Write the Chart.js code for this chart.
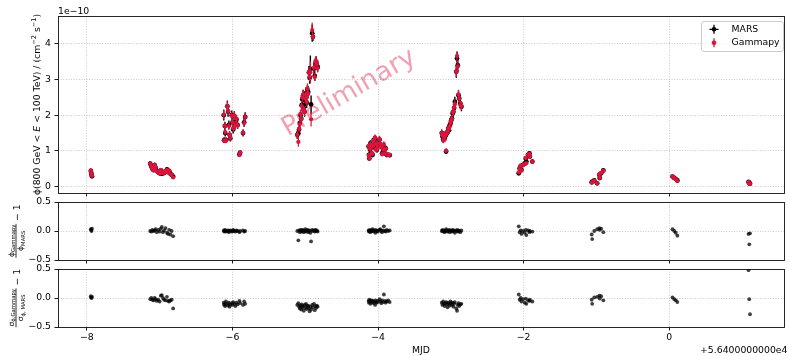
<!DOCTYPE html>
<html><head><meta charset="utf-8">
<script src="https://cdn.jsdelivr.net/npm/chart.js@4.4.1/dist/chart.umd.min.js"></script>
<style>
html,body{margin:0;padding:0;background:#fff;}
#wrap{position:relative;width:788px;height:356px;overflow:hidden;background:#fff;}
#wrap canvas{position:absolute;left:0;}
</style></head><body>
<div id="wrap">
<canvas id="c1" width="788" height="200" style="top:0px"></canvas>
<canvas id="c2" width="788" height="78" style="top:190px"></canvas>
<canvas id="c3" width="788" height="100" style="top:256px"></canvas>
</div>
<script>
// ---------------- data ----------------
// time in days, relative to MJD 56400
const mjd = [
  -7.946, -7.941, -7.936, -7.930,
  -7.130, -7.115, -7.100, -7.085, -7.070, -7.055, -7.040, -7.020, -7.000, -6.985, -6.970, -6.955, -6.940, -6.920, -6.900, -6.885, -6.870, -6.855, -6.835, -6.815,
  -6.120, -6.115, -6.105, -6.100, -6.090, -6.070, -6.060, -6.050, -6.040, -6.030, -6.010, -6.000, -5.990, -5.975, -5.960, -5.945, -5.930, -5.905, -5.895, -5.855, -5.840, -5.825,
  -5.110, -5.095, -5.085, -5.075, -5.065, -5.055, -5.050, -5.040, -5.030, -5.020, -5.010, -5.000, -4.990, -4.980, -4.970, -4.960, -4.950, -4.940, -4.930, -4.920, -4.905, -4.895, -4.880, -4.870, -4.860, -4.850, -4.840, -4.830,
  -4.130, -4.125, -4.120, -4.110, -4.105, -4.090, -4.080, -4.075, -4.060, -4.055, -4.040, -4.035, -4.020, -4.015, -4.000, -3.980, -3.970, -3.955, -3.945, -3.930, -3.920, -3.905, -3.895, -3.880, -3.860, -3.840,
  -3.125, -3.115, -3.105, -3.095, -3.085, -3.075, -3.065, -3.055, -3.045, -3.035, -3.025, -3.015, -3.005, -2.995, -2.985, -2.975, -2.965, -2.955, -2.945, -2.925, -2.915, -2.905, -2.895, -2.885, -2.870, -2.855,
  -2.067, -2.055, -2.040, -2.030, -2.008, -1.985, -1.970, -1.963, -1.940, -1.920, -1.915, -1.880,
  -1.065, -1.058, -1.030, -0.990, -0.960, -0.955, -0.935, -0.905,
  0.045, 0.070, 0.090, 0.112,
  1.090, 1.100, 1.110
];
// MARS integral flux, units of 1e-10 cm^-2 s^-1
const marsFlux = [
  0.44, 0.38, 0.33, 0.29,
  0.64, 0.56, 0.50, 0.46, 0.60, 0.52, 0.44, 0.40, 0.37, 0.45, 0.36, 0.41, 0.38, 0.42, 0.48, 0.41, 0.44, 0.37, 0.33, 0.28,
  2.00, 1.30, 1.70, 1.50, 1.30, 2.25, 2.10, 1.73, 1.45, 1.35, 2.00, 1.80, 1.60, 1.98, 1.75, 1.88, 1.72, 0.90, 0.95, 1.50, 1.80, 1.95,
  1.45, 1.49, 1.60, 1.78, 2.00, 1.90, 2.28, 2.45, 2.55, 2.20, 2.10, 2.40, 2.62, 2.35, 2.70, 2.65, 3.20, 3.05, 3.30, 2.30, 4.30, 4.20, 3.30, 3.10, 3.45, 3.50, 3.40, 3.35,
  1.12, 0.89, 0.79, 1.03, 1.21, 0.93, 1.12, 0.89, 1.31, 1.17, 1.35, 1.07, 1.21, 1.03, 1.12, 1.31, 1.17, 1.12, 0.93, 1.03, 1.10, 0.93, 1.07, 0.89, 0.89, 0.88,
  1.50, 1.40, 1.31, 1.45, 1.35, 1.42, 0.98, 1.49, 1.54, 1.63, 1.58, 1.72, 1.77, 1.86, 1.91, 2.05, 2.10, 2.20, 2.38, 3.22, 3.59, 3.40, 2.56, 2.47, 2.33, 2.24,
  0.37, 0.51, 0.58, 0.47, 0.61, 0.65, 0.79, 0.70, 0.89, 0.93, 0.84, 0.70,
  0.12, 0.14, 0.17, 0.09, 0.33, 0.24, 0.37, 0.45,
  0.28, 0.24, 0.21, 0.17,
  0.13, 0.10, 0.08
];
const marsFluxErr = [
  0.05, 0.05, 0.04, 0.04,
  0.07, 0.06, 0.06, 0.05, 0.07, 0.06, 0.05, 0.05, 0.05, 0.05, 0.05, 0.05, 0.05, 0.05, 0.06, 0.05, 0.05, 0.05, 0.05, 0.04,
  0.15, 0.08, 0.12, 0.10, 0.08, 0.16, 0.14, 0.12, 0.10, 0.09, 0.13, 0.12, 0.11, 0.13, 0.12, 0.12, 0.11, 0.05, 0.05, 0.10, 0.12, 0.13,
  0.12, 0.15, 0.12, 0.13, 0.14, 0.13, 0.15, 0.15, 0.16, 0.14, 0.14, 0.15, 0.16, 0.15, 0.16, 0.16, 0.18, 0.17, 0.37, 0.25, 0.24, 0.12, 0.15, 0.14, 0.15, 0.15, 0.14, 0.14,
  0.08, 0.07, 0.06, 0.08, 0.09, 0.07, 0.08, 0.07, 0.09, 0.08, 0.09, 0.08, 0.09, 0.08, 0.08, 0.09, 0.08, 0.08, 0.07, 0.08, 0.08, 0.07, 0.08, 0.07, 0.06, 0.06,
  0.10, 0.09, 0.09, 0.10, 0.09, 0.09, 0.07, 0.10, 0.10, 0.11, 0.10, 0.11, 0.11, 0.12, 0.12, 0.13, 0.13, 0.13, 0.14, 0.17, 0.18, 0.17, 0.14, 0.14, 0.13, 0.13,
  0.04, 0.05, 0.05, 0.05, 0.05, 0.06, 0.06, 0.06, 0.07, 0.07, 0.06, 0.06,
  0.03, 0.03, 0.03, 0.03, 0.04, 0.04, 0.04, 0.05,
  0.03, 0.03, 0.03, 0.03,
  0.03, 0.03, 0.03
];
// phi_Gammapy / phi_MARS - 1
const fluxRatioMinusOne = [
  0.03, 0.02, 0.00, 0.04,
  0.00, -0.01, 0.02, 0.00, 0.01, 0.03, -0.02, 0.02, -0.01, 0.04, 0.07, -0.02, 0.01, 0.05, -0.03, -0.05, 0.02, -0.06, 0.00, -0.09,
  0.01, -0.01, 0.00, 0.02, -0.01, 0.00, 0.01, -0.02, 0.00, 0.01, -0.01, 0.00, 0.02, 0.00, -0.01, 0.01, 0.00, -0.02, 0.00, 0.01, -0.01, 0.00,
  0.00, -0.16, 0.01, -0.02, 0.02, 0.00, -0.01, 0.02, 0.01, -0.02, 0.00, 0.03, -0.01, 0.01, 0.02, -0.02, 0.00, 0.01, -0.03, -0.18, 0.02, 0.00, 0.01, -0.01, 0.02, 0.00, 0.01, -0.01,
  0.01, -0.01, 0.00, 0.02, -0.02, 0.00, 0.01, 0.03, -0.01, 0.00, 0.02, -0.03, 0.00, 0.01, -0.01, 0.02, 0.03, 0.00, -0.02, 0.01, 0.08, 0.00, -0.01, 0.02, 0.00, 0.01,
  0.00, 0.02, -0.01, 0.01, -0.02, 0.00, 0.03, 0.01, -0.01, 0.00, 0.02, -0.02, 0.01, 0.00, -0.01, 0.02, 0.00, 0.01, -0.03, 0.00, 0.02, -0.01, 0.01, 0.00, -0.02, 0.01,
  0.08, -0.02, 0.01, -0.05, 0.00, -0.03, 0.02, -0.07, 0.01, -0.02, 0.00, -0.01,
  -0.06, -0.14, 0.00, 0.03, 0.05, 0.02, 0.04, -0.02,
  0.03, 0.00, -0.03, -0.08,
  -0.05, -0.23, -0.04
];
// sigma_phi,Gammapy / sigma_phi,MARS - 1
const errRatioMinusOne = [
  0.03, 0.01, 0.00, 0.02,
  -0.02, 0.00, -0.03, -0.04, 0.00, -0.02, -0.05, -0.03, -0.06, 0.04, 0.05, 0.00, -0.03, -0.04, 0.02, -0.05, -0.06, -0.04, -0.03, -0.18,
  -0.08, -0.12, -0.10, -0.14, -0.06, -0.10, -0.13, -0.08, -0.15, -0.11, -0.09, -0.12, -0.07, -0.10, -0.14, -0.08, -0.11, -0.05, -0.09, -0.12, -0.06, -0.10,
  -0.12, -0.09, -0.15, -0.18, -0.13, -0.20, -0.11, -0.16, -0.14, -0.22, -0.12, -0.17, -0.10, -0.19, -0.14, -0.13, -0.18, -0.23, -0.15, -0.20, -0.12, -0.16, -0.10, -0.21, -0.14, -0.17, -0.13, -0.15,
  -0.05, -0.08, -0.03, -0.06, -0.10, -0.04, -0.07, -0.05, -0.09, -0.06, -0.12, -0.04, -0.07, -0.08, -0.05, -0.02, -0.06, -0.09, -0.04, -0.07, 0.06, -0.05, -0.08, -0.06, -0.04, -0.07,
  -0.08, -0.12, -0.06, -0.10, -0.14, -0.09, -0.07, -0.11, -0.16, -0.08, -0.10, -0.13, -0.06, -0.09, -0.12, -0.08, -0.15, -0.10, -0.07, -0.18, -0.22, -0.12, -0.09, -0.14, -0.11, -0.10,
  0.06, -0.03, 0.00, -0.06, -0.02, -0.08, -0.01, -0.10, -0.04, -0.05, -0.03, -0.06,
  -0.03, -0.10, 0.01, 0.02, 0.04, -0.01, 0.03, -0.04,
  0.01, -0.02, -0.04, -0.07,
  0.48, -0.02, -0.28
];
const xTickValues = [-8, -6, -4, -2, 0];
const fluxTickValues = [0, 1, 2, 3, 4];
const residualTickValues = [-0.5, 0, 0.5];
const seriesNames = ['MARS', 'Gammapy'];

// Gammapy series follows from the plotted ratios
const gammapyFlux = marsFlux.map((f, i) => f * (1 + fluxRatioMinusOne[i]));
const gammapyFluxErr = marsFluxErr.map((e, i) => e * (1 + errRatioMinusOne[i]));

// ---------------- styling ----------------
const FAMILY = "'DejaVu Sans', sans-serif";
const FS = 9.3;
const CRIMSON = '#dc143c';
const GRID = 'rgba(176,176,176,0.85)';
const X_MIN = -8.397, X_MAX = 1.577;
const minus = s => String(s).replace('-', '\u2212');

function xAxis(showLabels, height) {
  return {
    type: 'linear', min: X_MIN, max: X_MAX, offset: false,
    afterBuildTicks: s => { s.ticks = xTickValues.map(v => ({ value: v })); },
    afterFit: s => { s.height = height; s.paddingLeft = 0; s.paddingRight = 0; },
    grid: { color: GRID, lineWidth: 0.8, drawTicks: true, tickLength: 3.5, tickColor: '#000', tickWidth: 0.9, tickBorderDash: [] },
    border: { display: false, dash: [1, 1.6] },
    ticks: { display: showLabels, autoSkip: false, maxRotation: 0, padding: 1.5, color: '#000', font: { family: FAMILY, size: FS }, callback: v => minus(v) },
    title: showLabels ? { display: true, text: 'MJD', color: '#000', font: { family: FAMILY, size: FS }, padding: { top: 0, bottom: 0 } } : { display: false }
  };
}
function yAxis(min, max, tickVals, fmt) {
  return {
    type: 'linear', min, max,
    afterBuildTicks: s => { s.ticks = tickVals.map(v => ({ value: v })); },
    afterFit: s => { s.width = 58; s.paddingTop = 0; s.paddingBottom = 0; },
    grid: { color: GRID, lineWidth: 0.8, drawTicks: true, tickLength: 3.5, tickColor: '#000', tickWidth: 0.9, tickBorderDash: [] },
    border: { display: false, dash: [1, 1.6] },
    ticks: { padding: 3.5, color: '#000', font: { family: FAMILY, size: FS }, callback: fmt }
  };
}

const errorBarPlugin = {
  id: 'errorBars',
  beforeDatasetDraw(chart, args) {
    const ds = chart.data.datasets[args.index];
    if (!ds.yErr) return;
    const { ctx, chartArea: a } = chart;
    const xs = chart.scales.x, ys = chart.scales.y;
    ctx.save();
    ctx.beginPath(); ctx.rect(a.left, a.top, a.right - a.left, a.bottom - a.top); ctx.clip();
    ctx.strokeStyle = ds.errColor; ctx.lineWidth = ds.errWidth;
    ctx.beginPath();
    ds.data.forEach((p, i) => {
      const px = xs.getPixelForValue(p.x);
      ctx.moveTo(px, ys.getPixelForValue(p.y - ds.yErr[i]));
      ctx.lineTo(px, ys.getPixelForValue(p.y + ds.yErr[i]));
    });
    ctx.stroke();
    ctx.restore();
  }
};

const framePlugin = {
  id: 'frame',
  afterDatasetsDraw(chart) {
    const { ctx, chartArea: a } = chart;
    ctx.save();
    ctx.strokeStyle = '#111'; ctx.lineWidth = 0.9;
    ctx.strokeRect(a.left + 0.5, a.top + 0.5, a.right - a.left, a.bottom - a.top);
    ctx.restore();
  }
};

function richWidth(ctx, pieces) {
  let w = 0;
  for (const p of pieces) { ctx.font = `${p.italic ? 'italic ' : ''}${p.size}px ${FAMILY}`; w += ctx.measureText(p.t).width; }
  return w;
}
function drawRich(ctx, pieces, x, y) {
  let cx = x;
  for (const p of pieces) {
    ctx.font = `${p.italic ? 'italic ' : ''}${p.size}px ${FAMILY}`;
    ctx.fillText(p.t, cx, y + (p.dy || 0));
    cx += ctx.measureText(p.t).width;
  }
}
// rotated fraction label: (num / den) − 1
function drawFracLabel(ctx, cx, cy, num, den) {
  const tail = [{ t: ' \u2212 1', size: FS }];
  ctx.save();
  ctx.translate(cx, cy); ctx.rotate(-Math.PI / 2);
  ctx.fillStyle = '#000'; ctx.textBaseline = 'alphabetic'; ctx.textAlign = 'left';
  const wn = richWidth(ctx, num), wd = richWidth(ctx, den), wt = richWidth(ctx, tail);
  const wf = Math.max(wn, wd) + 1.5;
  const total = wf + wt;
  const x0 = -total / 2;
  ctx.fillRect(x0, -0.4, wf, 0.8);
  drawRich(ctx, num, x0 + (wf - wn) / 2, -2.4);
  drawRich(ctx, den, x0 + (wf - wd) / 2, 7.3);
  drawRich(ctx, tail, x0 + wf, 3.6);
  ctx.restore();
}

const topDecor = {
  id: 'topDecor',
  afterDatasetsDraw(chart) {
    const { ctx } = chart;
    ctx.save();
    ctx.translate(349, 93);
    ctx.rotate(-30 * Math.PI / 180);
    ctx.font = `26.5px ${FAMILY}`; ctx.fillStyle = 'rgba(220,20,60,0.4)';
    ctx.textAlign = 'center'; ctx.textBaseline = 'middle';
    ctx.fillText('Preliminary', 0, 0);
    ctx.restore();
  },
  afterDraw(chart) {
    const { ctx, chartArea: a } = chart;
    ctx.save();
    ctx.fillStyle = '#000';
    ctx.font = `${FS}px ${FAMILY}`; ctx.textAlign = 'left'; ctx.textBaseline = 'alphabetic';
    ctx.fillText('1e\u221210', a.left, 13.8);
    ctx.save();
    ctx.translate(40, (a.top + a.bottom) / 2); ctx.rotate(-Math.PI / 2);
    const sup = 6.6;
    const pieces = [
      { t: '\u03d5(800 GeV < ', size: FS }, { t: 'E', size: FS, italic: true },
      { t: ' < 100 TeV) / (cm', size: FS }, { t: '\u22122', size: sup, dy: -3.6 },
      { t: ' s', size: FS }, { t: '\u22121', size: sup, dy: -3.6 }, { t: ')', size: FS }
    ];
    const w = richWidth(ctx, pieces);
    drawRich(ctx, pieces, -w / 2, 0);
    ctx.restore();
    // legend
    const lx = 701.5, ly = 21.5, lw = 82, lh = 30;
    ctx.beginPath();
    ctx.roundRect(lx, ly, lw, lh, 2.5);
    ctx.fillStyle = 'rgba(255,255,255,0.8)'; ctx.fill();
    ctx.strokeStyle = '#cccccc'; ctx.lineWidth = 1; ctx.stroke();
    const hx = 714, y1 = 29.3, y2 = 42.8;
    ctx.strokeStyle = '#000'; ctx.lineWidth = 1.3;
    ctx.beginPath(); ctx.moveTo(hx, y1 - 4.5); ctx.lineTo(hx, y1 + 4.5); ctx.moveTo(hx - 4.5, y1); ctx.lineTo(hx + 4.5, y1); ctx.stroke();
    ctx.fillStyle = '#000'; ctx.beginPath(); ctx.arc(hx, y1, 2.3, 0, 2 * Math.PI); ctx.fill();
    ctx.strokeStyle = CRIMSON;
    ctx.beginPath(); ctx.moveTo(hx, y2 - 4.5); ctx.lineTo(hx, y2 + 4.5); ctx.stroke();
    ctx.fillStyle = CRIMSON; ctx.beginPath(); ctx.arc(hx, y2, 2.3, 0, 2 * Math.PI); ctx.fill();
    ctx.fillStyle = '#000'; ctx.font = `${FS}px ${FAMILY}`; ctx.textBaseline = 'middle';
    ctx.fillText(seriesNames[0], 731.5, y1);
    ctx.fillText(seriesNames[1], 731.5, y2);
    ctx.restore();
  }
};

const midDecor = {
  id: 'midDecor',
  afterDraw(chart) {
    const a = chart.chartArea;
    drawFracLabel(chart.ctx, 16, (a.top + a.bottom) / 2,
      [{ t: '\u03d5', size: 7.6 }, { t: 'Gammapy', size: 5.3, dy: 1.5 }],
      [{ t: '\u03d5', size: 7.6 }, { t: 'MARS', size: 5.3, dy: 1.5 }]);
  }
};
const botDecor = {
  id: 'botDecor',
  afterDraw(chart) {
    const { ctx, chartArea: a } = chart;
    drawFracLabel(ctx, 16, (a.top + a.bottom) / 2,
      [{ t: '\u03c3', size: 7.6 }, { t: '\u03d5,Gammapy', size: 5.3, dy: 1.5 }],
      [{ t: '\u03c3', size: 7.6 }, { t: '\u03d5, MARS', size: 5.3, dy: 1.5 }]);
    ctx.save();
    ctx.fillStyle = '#000'; ctx.font = `${FS}px ${FAMILY}`;
    ctx.textAlign = 'right'; ctx.textBaseline = 'middle';
    ctx.fillText('+5.6400000000e4', 787.5, 94.2);
    ctx.restore();
  }
};

const common = {
  responsive: false, animation: false, devicePixelRatio: 1, events: [],
  plugins: { legend: { display: false }, tooltip: { enabled: false } }
};

const pts = (ys) => mjd.map((t, i) => ({ x: t, y: ys[i] }));

new Chart(document.getElementById('c1'), {
  type: 'scatter',
  data: { datasets: [
    { label: seriesNames[0], order: 2, data: pts(marsFlux), yErr: marsFluxErr, errColor: '#000', errWidth: 1.4, pointRadius: 2.4, pointBackgroundColor: '#000', pointBorderWidth: 0 },
    { label: seriesNames[1], order: 1, data: pts(gammapyFlux), yErr: gammapyFluxErr, errColor: CRIMSON, errWidth: 1.2, pointRadius: 2.1, pointBackgroundColor: CRIMSON, pointBorderWidth: 0 }
  ] },
  options: Object.assign({}, common, {
    layout: { padding: { top: 16, left: 0, right: 1, bottom: 0 } },
    scales: { x: xAxis(false, 7), y: yAxis(-0.18, 4.78, fluxTickValues, v => minus(v)) }
  }),
  plugins: [errorBarPlugin, framePlugin, topDecor]
});

const resFmt = v => minus(Number(v).toFixed(1));
new Chart(document.getElementById('c2'), {
  type: 'scatter',
  data: { datasets: [
    { label: 'flux ratio', data: pts(fluxRatioMinusOne), pointRadius: 1.9, pointBackgroundColor: 'rgba(0,0,0,0.75)', pointBorderWidth: 0 }
  ] },
  options: Object.assign({}, common, {
    layout: { padding: { top: 12, left: 0, right: 1, bottom: 0 } },
    scales: { x: xAxis(false, 8), y: yAxis(-0.5, 0.5, residualTickValues, resFmt) }
  }),
  plugins: [framePlugin, midDecor]
});

new Chart(document.getElementById('c3'), {
  type: 'scatter',
  data: { datasets: [
    { label: 'error ratio', data: pts(errRatioMinusOne), pointRadius: 1.9, pointBackgroundColor: 'rgba(0,0,0,0.75)', pointBorderWidth: 0 }
  ] },
  options: Object.assign({}, common, {
    layout: { padding: { top: 13, left: 0, right: 1, bottom: 0 } },
    scales: { x: xAxis(true, 29), y: yAxis(-0.5, 0.5, residualTickValues, resFmt) }
  }),
  plugins: [framePlugin, botDecor]
});
</script>
</body></html>
